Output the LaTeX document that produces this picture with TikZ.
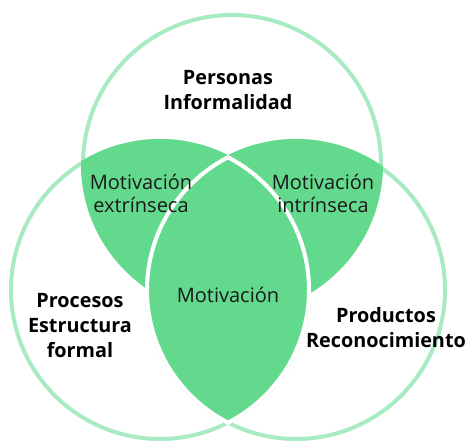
\documentclass[tikz,border=0pt]{standalone}
\usepackage{fontspec}
\setmainfont{Open Sans}
\usetikzlibrary{positioning}
\definecolor{vennfill}{RGB}{99,217,141}
\definecolor{vennline}{RGB}{168,234,193}
\tikzset{
  ring/.style={draw=vennline, line width=4pt},
  heading/.style={font=\fontsize{19.8}{25}\selectfont\bfseries, align=center, inner sep=0pt},
  overlap/.style={font=\fontsize{20}{23}\selectfont, align=center, inner sep=0pt, text=black!90},
}
\begin{document}
\begin{tikzpicture}[x=1pt,y=1pt]
  \useasboundingbox (0,0) rectangle (466,441);
  \def\rad{149pt}
  \coordinate (top) at (232,277);
  \coordinate (left) at (160,151);
  \coordinate (right) at (296,151);
  % outlines
  \foreach \c in {top,left,right}
    \draw[ring] (\c) circle (\rad);
  % overlaps with the top circle
  \begin{scope}
    \clip (top) circle (\rad+2pt);
    \fill[vennfill] (left) circle (\rad+2pt);
    \fill[vennfill] (right) circle (\rad+2pt);
  \end{scope}
  % lower lens
  \begin{scope}
    \clip (left) circle (\rad);
    \fill[vennfill] (right) circle (\rad);
  \end{scope}
  \begin{scope}
    \clip (left) circle (\rad+2pt);
    \draw[white, line width=4pt] (right) circle (\rad);
  \end{scope}
  \begin{scope}
    \clip (right) circle (\rad+2pt);
    \draw[white, line width=4pt] (left) circle (\rad);
  \end{scope}
  % labels
  \node[heading] (personas) at (228,350.5) {Personas\\Informalidad};
  \node[heading] (procesos) at (80,115) {Procesos\\Estructura\\formal};
  \node[heading] (productos) at (386,113.5) {Productos\\Reconocimiento};
  \node[overlap] (extr) at (141,248) {Motivación\\extrínseca};
  \node[overlap] (intr) at (323,248) {Motivación\\intrínseca};
  \node[overlap, anchor=base] (motiv) at (228,138) {Motivación};
\end{tikzpicture}
\end{document}
